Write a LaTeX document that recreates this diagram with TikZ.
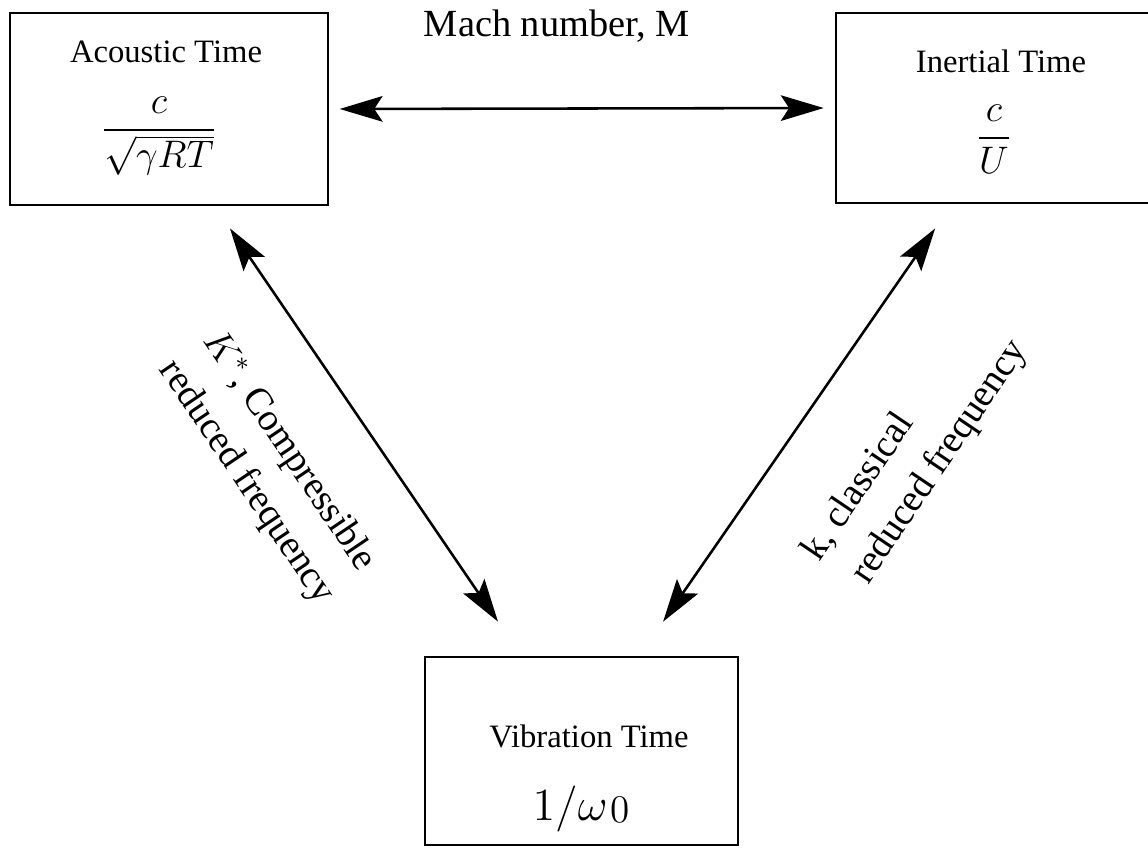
\documentclass[tikz,border=0pt]{standalone}
\usepackage{amsmath}
\usepackage{fontspec}
\setmainfont{Liberation Serif}
\usetikzlibrary{arrows.meta}
\tikzset{
  box/.style={draw, line width=0.9pt, inner sep=0pt},
  arr/.style={line width=0.8pt, {Stealth[length=13.4pt,width=8pt,inset=2.6pt]}-{Stealth[length=13.4pt,width=8pt,inset=2.6pt]}},
  ttl/.style={font=\fontsize{10.2}{12}\selectfont, anchor=base, inner sep=0pt},
  eq/.style={font=\large, anchor=base, inner sep=0pt},
  lbl/.style={font=\fontsize{12}{16.5}\selectfont, align=left, inner sep=0pt}
}
\begin{document}
\begin{tikzpicture}[x=0.3125pt, y=-0.3125pt]
\useasboundingbox (0,0) rectangle (1148,848);
% boxes
\node[box, minimum width=99.375pt, minimum height=60pt] (ac) at (169,109) {};
\node[box, minimum width=98.75pt, minimum height=59.4pt] (in) at (994,108) {};
\node[box, minimum width=97.8pt, minimum height=58.75pt] (vib) at (581.5,751) {};
% box contents
\node[ttl] (acT) at (166,62) {Acoustic Time};
\node[eq, font=\fontsize{12.8}{15}\selectfont] (acE) at (159,139.6) {$\dfrac{c}{\sqrt{\gamma RT}}$};
\node[ttl] (inT) at (1001,72) {Inertial Time};
\node[eq] (inE) at (994,147.6) {$\dfrac{c}{U}$};
\node[ttl] (vibT) at (589,747) {Vibration Time};
\node[font=\Large, anchor=base, inner sep=0pt] (vibE) at (581,820) {$1/\omega\mkern1mu\lower0.8pt\hbox{\scalebox{0.85}{$0$}}$};
% connectors
\draw[arr, shorten <=3.2pt, shorten >=3.4pt] (ac.east) -- (in.west);
\draw[arr] ([xshift=19.06pt, yshift=-6.875pt]ac.south) -- ([xshift=-26.1pt, yshift=10.6pt]vib.north);
\draw[arr] ([xshift=-18.4pt, yshift=-7.5pt]in.south) -- ([xshift=25.5pt, yshift=10.6pt]vib.north);
% labels
\node[font=\fontsize{12}{14}\selectfont, anchor=base, inner sep=0pt] (mach) at (557,37) {Mach number, M};
\node[lbl, rotate=-56] (kstar) at (268,468) {$K^*$, Compressible\\reduced frequency};
\node[lbl, rotate=56] (kcl) at (916,451) {k, classical\\\hspace*{2.5pt}reduced frequency};
\end{tikzpicture}
\end{document}
